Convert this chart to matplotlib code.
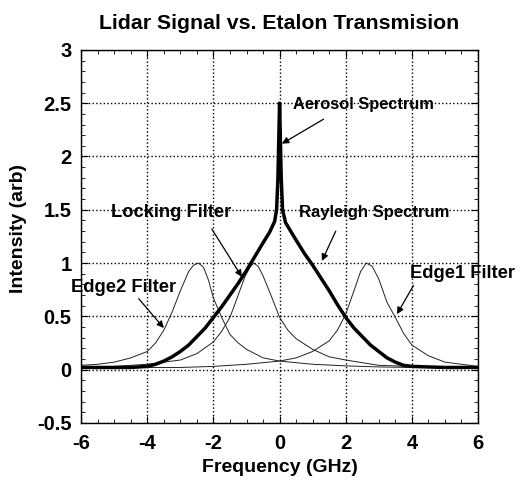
import numpy as np
import matplotlib.pyplot as plt
from matplotlib.ticker import MultipleLocator

plt.rcParams['font.family'] = ['Liberation Sans', 'DejaVu Sans']
plt.rcParams['font.weight'] = 'bold'
plt.rcParams['axes.unicode_minus'] = False

# Values (frequency in GHz, intensity arb)
edge2_x = [-6, -5.5, -5, -4.5, -4, -3.75, -3.5, -3.25, -3, -2.75, -2.6, -2.45,
           -2.3, -2.15, -2, -1.75, -1.5, -1.25, -1, -0.5, 0, 1, 2, 3, 4, 5, 6]
edge2_y = [0.04, 0.05, 0.07, 0.11, 0.17, 0.25, 0.37, 0.54, 0.74, 0.92, 0.98, 1.0,
           0.96, 0.84, 0.67, 0.49, 0.33, 0.25, 0.19, 0.11, 0.08, 0.05, 0.035, 0.025, 0.02, 0.02, 0.02]

lock_x = [-6, -5, -4, -3, -2.5, -2, -1.75, -1.5, -1.25, -1.05, -0.9, -0.78,
          -0.65, -0.5, -0.25, 0, 0.25, 0.5, 1, 1.5, 2, 3, 4, 5, 6]
lock_y = [0.02, 0.03, 0.05, 0.09, 0.15, 0.26, 0.36, 0.49, 0.7, 0.87, 0.96, 1.0,
          0.97, 0.88, 0.69, 0.49, 0.37, 0.29, 0.19, 0.12, 0.09, 0.04, 0.03, 0.02, 0.02]

edge1_x = [-6, -5, -4, -3, -2, -1, 0, 0.5, 1, 1.5, 1.75, 2, 2.25, 2.45, 2.62,
           2.8, 3, 3.25, 3.5, 3.75, 4, 4.5, 5, 5.5, 6]
edge1_y = [0.02, 0.02, 0.02, 0.02, 0.03, 0.05, 0.08, 0.11, 0.17, 0.27, 0.37, 0.52, 0.74, 0.92, 1.0,
           0.97, 0.85, 0.63, 0.49, 0.34, 0.23, 0.13, 0.07, 0.05, 0.03]

ray_x = [-6, -5, -4.5, -4, -3.75, -3.5, -3.25, -3, -2.75, -2.5, -2.25, -2, -1.75,
         -1.5, -1.25, -1, -0.75, -0.5, -0.3, -0.15, -0.09, -0.05, -0.025, 0,
         0.025, 0.05, 0.09, 0.18, 0.45, 0.75, 1, 1.25, 1.5, 1.75, 2, 2.25, 2.5,
         2.75, 3, 3.25, 3.5, 3.75, 4, 5, 6]
ray_y = [0.02, 0.02, 0.02, 0.03, 0.05, 0.08, 0.12, 0.17, 0.23, 0.31, 0.39, 0.49, 0.59,
         0.70, 0.81, 0.93, 1.06, 1.19, 1.29, 1.39, 1.5, 1.8, 2.15, 2.5,
         2.15, 1.8, 1.5, 1.38, 1.24, 1.09, 0.98, 0.86, 0.74, 0.61, 0.49, 0.39, 0.31,
         0.23, 0.17, 0.11, 0.07, 0.04, 0.03, 0.02, 0.02]

y_ticks = [-0.5, 0, 0.5, 1, 1.5, 2, 2.5, 3]
y_labels = ['-0.5', '0', '0.5', '1', '1.5', '2', '2.5', '3']
x_ticks = [-6, -4, -2, 0, 2, 4, 6]

# label text, text anchor, arrow tail, arrow head, font size
notes = [
    ('Aerosol Spectrum', (0.42, 2.49), (1.33, 2.35), (0.07, 2.12), 11.8),
    ('Locking Filter', (-5.09, 1.47), (-2.05, 1.32), (-1.14, 0.87), 13.2),
    ('Rayleigh Spectrum', (0.6, 1.47), (1.7, 1.3), (1.28, 1.02), 12),
    ('Edge2 Filter', (-6.32, 0.77), (-4.26, 0.665), (-3.5, 0.39), 13.2),
    ('Edge1 Filter', (3.95, 0.905), (4.05, 0.79), (3.55, 0.52), 13.2),
]

fig = plt.figure(figsize=(5.27, 4.8), dpi=100)
ax = fig.add_axes([0.154, 0.119, 0.753, 0.777])

thin = dict(color='#222222', lw=0.7)
ax.plot(edge2_x, edge2_y, **thin)
ax.plot(lock_x, lock_y, **thin)
ax.plot(edge1_x, edge1_y, **thin)
ax.plot(ray_x, ray_y, color='black', lw=2.5, solid_joinstyle='round')

ax.set_xlim(-6, 6)
ax.set_ylim(-0.5, 3)
ax.set_xticks(x_ticks)
ax.set_yticks(y_ticks)
ax.set_yticklabels(y_labels)
ax.xaxis.set_minor_locator(MultipleLocator(0.5))
ax.yaxis.set_minor_locator(MultipleLocator(0.1))
ax.tick_params(which='both', direction='in', top=True, right=True, labelsize=14.5)
ax.tick_params(which='major', length=5)
ax.tick_params(which='minor', length=3)
ax.tick_params(axis='x', pad=8)
ax.tick_params(axis='y', pad=7)
ax.grid(True, linestyle=':', color='black', lw=1.0)
for s in ax.spines.values():
    s.set_linewidth(1.0)

ax.set_title('Lidar Signal vs. Etalon Transmision', fontsize=15.3, fontweight='bold', pad=15)
ax.set_xlabel('Frequency (GHz)', fontsize=14, fontweight='bold')
ax.set_ylabel('Intensity (arb)', fontsize=14, fontweight='bold')
ax.xaxis.set_label_coords(0.5, -0.097)
ax.yaxis.set_label_coords(-0.136, 0.52)

arrow = dict(arrowstyle='-|>', color='black', lw=0.9, mutation_scale=10, shrinkA=0, shrinkB=0)
for label, pos, tail, head, size in notes:
    ax.text(pos[0], pos[1], label, fontsize=size, ha='left', va='center', clip_on=False)
    ax.annotate('', xy=head, xytext=tail, arrowprops=arrow, annotation_clip=False)

fig.savefig('out.png', dpi=100)
